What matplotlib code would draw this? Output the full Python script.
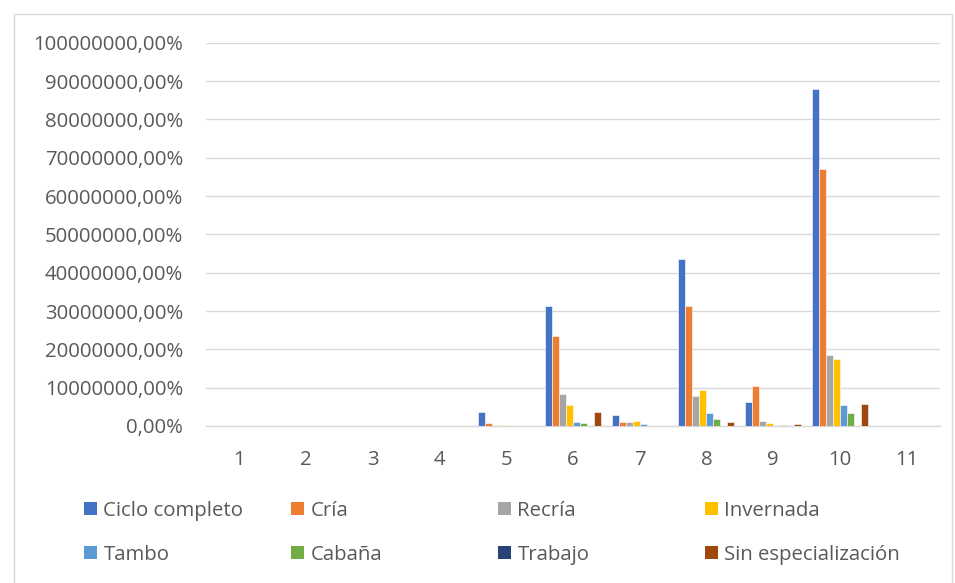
import numpy as np
import matplotlib.pyplot as plt
from matplotlib.ticker import FuncFormatter, MultipleLocator
from matplotlib.patches import Rectangle

plt.rcParams['font.family'] = ['Open Sans', 'DejaVu Sans']

# groups on the x axis
groups = [1, 2, 3, 4, 5, 6, 7, 8, 9, 10, 11]

# values in percent (millions)
ciclo_completo = [0, 0, 0, 0, 3.6, 31.3, 3.0, 43.5, 6.2, 87.9, 0]
cria = [0, 0, 0, 0, 0.8, 23.4, 1.1, 31.3, 10.4, 67.1, 0]
recria = [0, 0, 0, 0, 0.05, 8.4, 1.1, 7.8, 1.2, 18.6, 0]
invernada = [0, 0, 0, 0, 0.3, 5.5, 1.2, 9.3, 0.7, 17.4, 0]
tambo = [0, 0, 0, 0, 0.1, 1.0, 0.6, 3.3, 0.1, 5.4, 0]
cabana = [0, 0, 0, 0, 0.1, 0.8, 0.1, 1.8, 0.2, 3.3, 0]
trabajo = [0, 0, 0, 0, 0, 0, 0, 0, 0, 0, 0]
sin_especializacion = [0, 0, 0, 0, 0.1, 3.6, 0.1, 1.0, 0.6, 5.7, 0]

series = [
    ("Ciclo completo", ciclo_completo, "#4472C4"),
    ("Cría", cria, "#ED7D31"),
    ("Recría", recria, "#A5A5A5"),
    ("Invernada", invernada, "#FFC000"),
    ("Tambo", tambo, "#5B9BD5"),
    ("Cabaña", cabana, "#70AD47"),
    ("Trabajo", trabajo, "#264478"),
    ("Sin especialización", sin_especializacion, "#9E480E"),
]

text_col = "#595959"
grid_col = "#D9D9D9"

fig = plt.figure(figsize=(9.55, 5.83), dpi=100)
ax = fig.add_axes([206 / 955, 1 - 426 / 583, 734 / 955, (426 - 42.7) / 583])

x = np.arange(len(groups))
w = 0.105
for i, (name, vals, col) in enumerate(series):
    ax.bar(x + (i - 3.5) * w, np.array(vals) * 1e6, width=w, color=col,
           edgecolor="white", linewidth=0.4, label=name, zorder=3)

ax.set_xlim(-0.5, len(groups) - 0.5)
ax.set_ylim(0, 1e8)
ax.yaxis.set_major_locator(MultipleLocator(1e7))
ax.yaxis.set_major_formatter(FuncFormatter(lambda v, p: f"{v:.2f}%".replace(".", ",")))
ax.set_xticks(x)
ax.set_xticklabels([str(g) for g in groups])
ax.grid(axis="y", color=grid_col, linewidth=1.0, zorder=0)
for s in ["top", "right", "left"]:
    ax.spines[s].set_visible(False)
ax.spines["bottom"].set_color(grid_col)
ax.spines["bottom"].set_linewidth(1.0)
ax.tick_params(axis="both", length=0, labelsize=14.7, colors=text_col)
ax.tick_params(axis="y", pad=16.5)
ax.tick_params(axis="x", pad=17)

# legend: 4 columns x 2 rows, one entry per slot
handles, labels = ax.get_legend_handles_labels()
col_x = [84, 291, 498, 705]
row_y = [511, 555]
for k, (h, lab) in enumerate(zip(handles, labels)):
    cx = col_x[k % 4]
    cy = row_y[k // 4]
    leg = fig.legend([h], [lab], loc="center left",
                     bbox_to_anchor=(cx / 955, 1 - cy / 583),
                     frameon=False, fontsize=14.7, labelcolor=text_col,
                     borderpad=0, borderaxespad=0,
                     handlelength=0.65, handleheight=0.6, handletextpad=0.3)
    for p in leg.get_patches():
        p.set_linewidth(0)

# chart frame
fig.patches.append(Rectangle((14 / 955, -0.05), (952 - 14) / 955, 1.05 - 14 / 583,
                             transform=fig.transFigure, fill=False,
                             edgecolor=grid_col, linewidth=1.0))

fig.savefig("out.png", dpi=100)
